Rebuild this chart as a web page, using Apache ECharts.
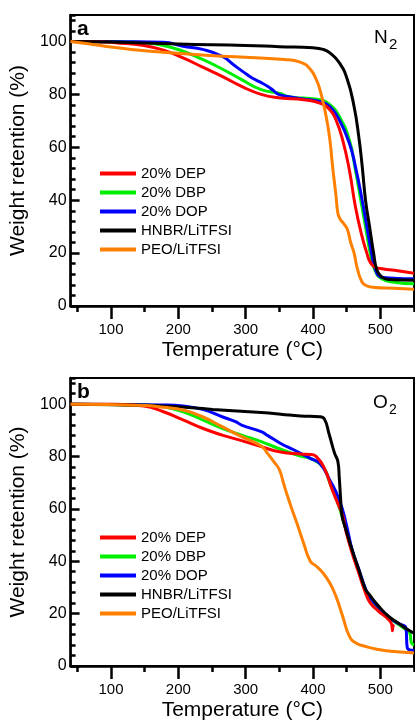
<!DOCTYPE html>
<html>
<head>
<meta charset="utf-8">
<script src="https://cdn.jsdelivr.net/npm/echarts@6/dist/echarts.min.js"></script>
<style>html,body{margin:0;padding:0;background:#fff}#c{width:415px;height:722px}</style>
</head>
<body>
<div id="c"></div>
<script>
// ---- data: [temperature (°C), weight retention (%)] ----
const seriesNames = ['20% DEP', '20% DBP', '20% DOP', 'HNBR/LiTFSI', 'PEO/LiTFSI'];
const xMajorTicks = [100, 200, 300, 400, 500];
const xMinorTicks = [50, 150, 250, 350, 450, 550];
const yTicks = [0, 20, 40, 60, 80, 100];

// Panel a: N2
const n2_DEP = [[40,100],[80,99.9],[106,99.5],[149,98.5],[178,96.7],[207,93.8],[236,90.3],[265,86.8],[294,83],[323,80],[352,78.6],[386,78],[410,76.7],[425,74.2],[434,70.4],[444,62.8],[454,51.4],[463,37.5],[473,26.1],[480,20],[485,16.5],[492,14.7],[505,14],[521,13.5],[550,12.4]];
const n2_DBP = [[40,100],[100,99.9],[149,99.5],[178,98.5],[207,96.3],[236,93.2],[265,89.6],[294,85.6],[323,81.8],[352,80.3],[362,79.2],[385,78.6],[410,78],[425,76.1],[439,71.7],[454,62.8],[463,51.4],[471,40],[478,30],[485,20],[492,13.5],[502,10.3],[521,9],[550,8.4]];
const n2_DOP = [[40,100],[120,99.9],[178,99.7],[207,98.2],[236,97],[265,94.4],[285,90.6],[297,88.4],[309,86.3],[321,84.7],[333,83],[341,81.5],[349,80],[362,79.2],[385,78.3],[410,77.3],[425,75.4],[439,70.4],[454,61.5],[463,52.7],[473,40],[480,30],[487,20],[493,13.5],[502,10.9],[520,10.5],[550,10.3]];
const n2_HNBR = [[40,100],[100,99.8],[200,99],[300,98.5],[350,98],[400,97.6],[415,97],[425,95.7],[439,92],[451,85.6],[461,75.4],[468,64],[473,53],[478,40],[484,30],[490,20],[495,13.5],[502,11],[512,10],[550,9.7]];
const n2_PEO = [[40,100],[60,99.3],[91,98.2],[130,97],[188,95.7],[240,94.8],[285,94.2],[357,93.2],[381,92.2],[396,89.5],[405,85.5],[410,82],[415,77],[420,71],[425,63],[429,53],[434,42],[437,35],[440,33],[446,31],[451,29],[456,24],[461,20],[466,14],[473,9],[480,7.6],[492,7],[520,6.7],[550,6.3]];

// Panel b: O2
const o2_DEP = [[40,100],[106,100],[149,99.3],[178,97.1],[207,94],[236,90.8],[265,88.2],[294,86.1],[323,83.8],[352,81.7],[381,81],[396,80.8],[405,80],[417,75.5],[429,67],[437,62],[444,57.5],[449,51.4],[458,43.2],[468,35.5],[478,27.9],[485,24.1],[497,21],[512,17.8],[517,15.8],[518,13.5],[519,15.5],[520,15]];
const o2_DBP = [[40,100],[149,99.7],[178,99],[207,97.1],[236,94],[265,90.8],[294,88.2],[323,85.7],[352,82.8],[381,80.2],[396,79.3],[415,76],[425,70],[437,62.2],[449,52],[458,44],[468,36.5],[478,29],[485,25.5],[497,22],[512,18.5],[526,16],[540,13.5],[544,12.5],[546,9],[550,8]];
const o2_DOP = [[40,100],[178,99.7],[207,99.3],[236,98],[265,95.2],[285,93.3],[294,92],[323,89.5],[333,88],[352,85],[372,82.5],[396,79.3],[410,77.4],[425,71],[439,63.5],[449,54.6],[458,44.5],[468,37],[478,29.5],[485,26],[497,22.5],[512,18.8],[526,16.3],[538,14.5],[540,7],[550,6]];
const o2_HNBR = [[40,100],[106,99.8],[178,99.3],[251,98],[323,96.8],[352,96.2],[381,95.5],[410,95.2],[417,94.3],[424,88.5],[432,81.3],[437,78],[439,72],[441,64],[443,57.5],[449,52],[458,44.4],[468,36.8],[478,29.2],[483,27.5],[497,23],[512,19],[526,16.5],[540,14],[550,12.5]];
const o2_PEO = [[40,100],[150,99.5],[178,98.8],[207,97.8],[236,95.2],[265,91.4],[294,87.6],[323,84],[333,81],[342,78],[350,75],[356,70],[362,65],[369,59.7],[376,54.6],[386,47],[396,40],[405,38.1],[415,35.5],[425,31.7],[434,26.7],[444,19],[454,11.4],[463,8.9],[480,7.3],[497,6.3],[520,5.5],[550,5]];

const colors = {'20% DEP':'#ff0000','20% DBP':'#00ee00','20% DOP':'#0000ff','HNBR/LiTFSI':'#000000','PEO/LiTFSI':'#ff8000'};
const panelData = [
  {'20% DEP':n2_DEP,'20% DBP':n2_DBP,'20% DOP':n2_DOP,'HNBR/LiTFSI':n2_HNBR,'PEO/LiTFSI':n2_PEO},
  {'20% DEP':o2_DEP,'20% DBP':o2_DBP,'20% DOP':o2_DOP,'HNBR/LiTFSI':o2_HNBR,'PEO/LiTFSI':o2_PEO}
];
const drawOrder = ['20% DBP','20% DOP','20% DEP','HNBR/LiTFSI','PEO/LiTFSI'];

const FONT = '"Liberation Sans", Arial, sans-serif';
const chart = echarts.init(document.getElementById('c'), null, {renderer:'canvas'});

const grids = [], xAxes = [], yAxes = [], series = [], legends = [];
const gridTops = [15, 378];
const legendTops = [166, 530];
gridTops.forEach((top, i) => {
  grids.push({left:65, top:top, width:349, height:291, show:true, borderColor:'#000', borderWidth:2, backgroundColor:'rgba(0,0,0,0)'});
  xAxes.push({
    gridIndex:i, type:'value', min:40, max:550, position:'bottom',
    axisLine:{show:true, onZero:false, lineStyle:{color:'#000', width:2.5}},
    axisTick:{show:true, inside:false, length:13, customValues:xMajorTicks, lineStyle:{color:'#000', width:2.5}},
    axisLabel:{show:true, customValues:xMajorTicks, margin:16, fontSize:15, fontFamily:FONT, color:'#000',
      formatter: v => (v % 100 === 0 ? String(v) : '')},
    splitLine:{show:false},
    name:'Temperature (°C)', nameLocation:'middle', nameGap:34,
    nameTextStyle:{fontSize:21, fontFamily:FONT, color:'#000'}
  });
  xAxes.push({
    gridIndex:i, type:'value', min:40, max:550, position:'bottom',
    axisLine:{show:false},
    axisTick:{show:true, inside:false, length:6, customValues:xMinorTicks, lineStyle:{color:'#000', width:2.5}},
    axisLabel:{show:false}, splitLine:{show:false}
  });
  yAxes.push({
    gridIndex:i, type:'value', min:0, max:110, interval:20, position:'left',
    axisLine:{show:true, onZero:false, lineStyle:{color:'#000', width:2.5}},
    axisTick:{show:true, inside:true, length:9, customValues:yTicks, lineStyle:{color:'#000', width:2.5}},
    axisLabel:{show:true, customValues:yTicks, margin:4, fontSize:16, fontFamily:FONT, color:'#000',
      formatter: v => (v % 20 === 0 && v <= 100 ? String(v) : '')},
    splitLine:{show:false},
    name:'Weight retention (%)', nameLocation:'middle', nameGap:34,
    nameTextStyle:{fontSize:21, fontFamily:FONT, color:'#000'}
  });
  yAxes.push({
    gridIndex:i, type:'value', min:0, max:110, interval:4, position:'left',
    axisLine:{show:false},
    axisTick:{show:true, inside:true, length:5, lineStyle:{color:'#000', width:2.5}},
    axisLabel:{show:false}, splitLine:{show:false}
  });
  drawOrder.forEach((name, k) => {
    series.push({
      name:name, type:'line', xAxisIndex:i*2, yAxisIndex:i*2,
      data:panelData[i][name], showSymbol:false, symbol:'none',
      smooth:0.5, z:2+k,
      color:colors[name],
      lineStyle:{color:colors[name], width:3}
    });
  });
  legends.push({
    orient:'vertical', left:100, top:legendTops[i], padding:0,
    data:seriesNames, icon:'rect', itemWidth:36, itemHeight:4, itemGap:4,
    selectedMode:false,
    textStyle:{fontSize:15, fontFamily:FONT, color:'#000', lineHeight:15}
  });
});

const graphic = [
  {type:'text', left:77, top:19, style:{text:'a', font:'bold 21px ' + FONT, fill:'#000'}},
  {type:'text', left:77, top:382, style:{text:'b', font:'bold 21px ' + FONT, fill:'#000'}},
  {type:'text', left:374, top:28, style:{text:'N', font:'19px ' + FONT, fill:'#000'}},
  {type:'text', left:389, top:37, style:{text:'2', font:'15px ' + FONT, fill:'#000'}},
  {type:'text', left:373, top:393, style:{text:'O', font:'19px ' + FONT, fill:'#000'}},
  {type:'text', left:389, top:403, style:{text:'2', font:'14px ' + FONT, fill:'#000'}}
];

chart.setOption({
  animation:false,
  backgroundColor:'#fff',
  textStyle:{fontFamily:FONT},
  grid:grids, xAxis:xAxes, yAxis:yAxes, series:series, legend:legends, graphic:graphic
});
</script>
</body>
</html>
